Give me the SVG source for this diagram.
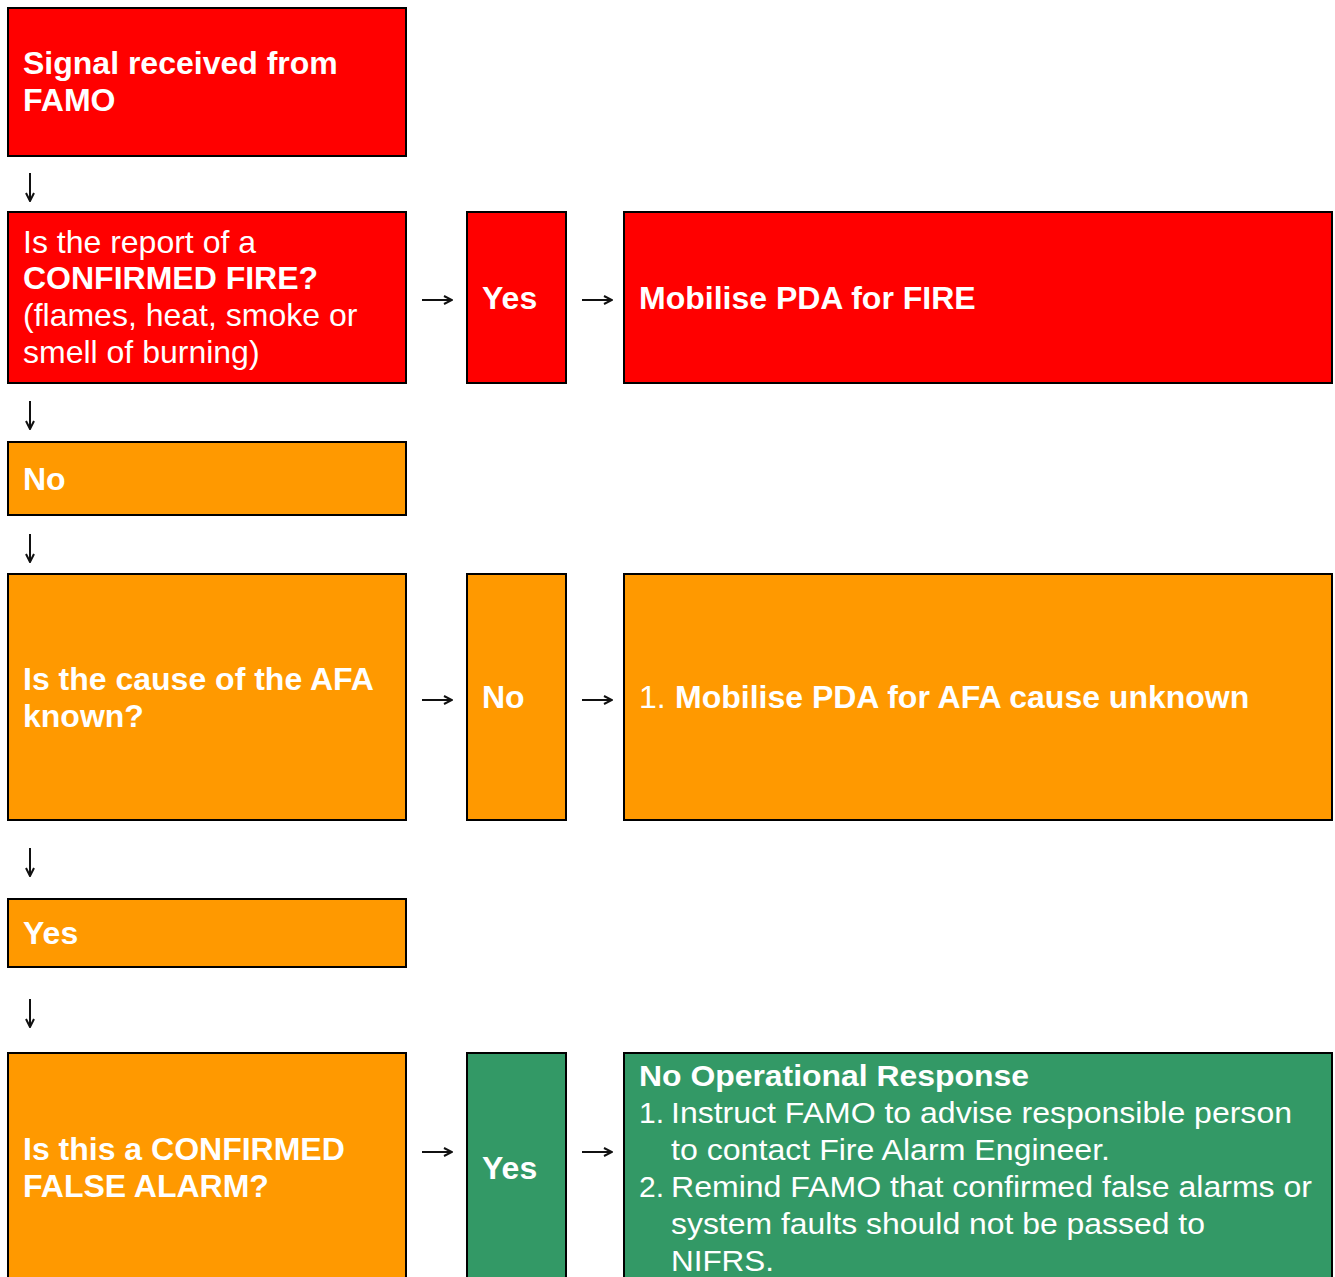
<svg xmlns="http://www.w3.org/2000/svg" width="1335" height="1277" viewBox="0 0 1335 1277">
<defs>
<style>
.box{stroke:#000;stroke-width:2}
.red{fill:#FF0000}
.org{fill:#FF9900}
.grn{fill:#339966}
text{font-family:"Liberation Sans",Arial,sans-serif;font-size:32px;fill:#fff}
.b{font-weight:bold}
.n{font-family:"Liberation Sans Narrow","Liberation Sans",Arial,sans-serif;font-size:30px}
.arr{stroke:#111;stroke-width:2;fill:none}
</style>
<marker id="ah" viewBox="0 0 10 10" refX="9" refY="5" markerWidth="10" markerHeight="10" markerUnits="userSpaceOnUse" orient="auto">
<path d="M1,1 L9,5 L1,9" fill="none" stroke="#111" stroke-width="2"/>
</marker>
</defs>
<rect width="1335" height="1277" fill="#fff"/>
<g id="n1"><rect class="box red" x="8" y="8" width="398" height="148"/>
<text class="b" x="23" y="74">Signal received from</text><text class="b" x="23" y="111">FAMO</text></g>
<g id="n2"><rect class="box red" x="8" y="212" width="398" height="171"/>
<text x="23" y="253">Is the report of a</text><text class="b" x="23" y="289">CONFIRMED FIRE?</text><text x="23" y="326">(flames, heat, smoke or</text><text x="23" y="363">smell of burning)</text></g>
<g id="n3"><rect class="box red" x="467" y="212" width="99" height="171"/><text class="b" x="482" y="309">Yes</text></g>
<g id="n4"><rect class="box red" x="624" y="212" width="708" height="171"/><text class="b" x="639" y="309">Mobilise PDA for FIRE</text></g>
<g id="n5"><rect class="box org" x="8" y="442" width="398" height="73"/><text class="b" x="23" y="490">No</text></g>
<g id="n6"><rect class="box org" x="8" y="574" width="398" height="246"/><text class="b" x="23" y="690">Is the cause of the AFA</text><text class="b" x="23" y="727">known?</text></g>
<g id="n7"><rect class="box org" x="467" y="574" width="99" height="246"/><text class="b" x="482" y="708">No</text></g>
<g id="n8"><rect class="box org" x="624" y="574" width="708" height="246"/><text x="639" y="708">1.</text><text class="b" x="675" y="708">Mobilise PDA for AFA cause unknown</text></g>
<g id="n9"><rect class="box org" x="8" y="899" width="398" height="68"/><text class="b" x="23" y="944">Yes</text></g>
<g id="n10"><rect class="box org" x="8" y="1053" width="398" height="240"/><text class="b" x="23" y="1160">Is this a CONFIRMED</text><text class="b" x="23" y="1197">FALSE ALARM?</text></g>
<g id="n11"><rect class="box grn" x="467" y="1053" width="99" height="240"/><text class="b" x="482" y="1179">Yes</text></g>
<g id="n12"><rect class="box grn" x="624" y="1053" width="708" height="240"/>
<text class="n b" x="639" y="1086" textLength="390" lengthAdjust="spacingAndGlyphs">No Operational Response</text>
<text class="n" x="639" y="1123">1.</text><text class="n" x="671" y="1123" textLength="621" lengthAdjust="spacingAndGlyphs">Instruct FAMO to advise responsible person</text>
<text class="n" x="671" y="1160" textLength="439" lengthAdjust="spacingAndGlyphs">to contact Fire Alarm Engineer.</text>
<text class="n" x="639" y="1197">2.</text><text class="n" x="671" y="1197" textLength="641" lengthAdjust="spacingAndGlyphs">Remind FAMO that confirmed false alarms or</text>
<text class="n" x="671" y="1234" textLength="534" lengthAdjust="spacingAndGlyphs">system faults should not be passed to</text>
<text class="n" x="671" y="1271" textLength="103" lengthAdjust="spacingAndGlyphs">NIFRS.</text></g>
<g id="connectors">
<path class="arr" marker-end="url(#ah)" d="M30,173 V201"/>
<path class="arr" marker-end="url(#ah)" d="M30,401 V429"/>
<path class="arr" marker-end="url(#ah)" d="M30,534 V562"/>
<path class="arr" marker-end="url(#ah)" d="M30,848 V876"/>
<path class="arr" marker-end="url(#ah)" d="M30,999 V1027"/>
<path class="arr" marker-end="url(#ah)" d="M422,300 H452"/>
<path class="arr" marker-end="url(#ah)" d="M582,300 H612"/>
<path class="arr" marker-end="url(#ah)" d="M422,700 H452"/>
<path class="arr" marker-end="url(#ah)" d="M582,700 H612"/>
<path class="arr" marker-end="url(#ah)" d="M422,1152 H452"/>
<path class="arr" marker-end="url(#ah)" d="M582,1152 H612"/>
</g>
</svg>
